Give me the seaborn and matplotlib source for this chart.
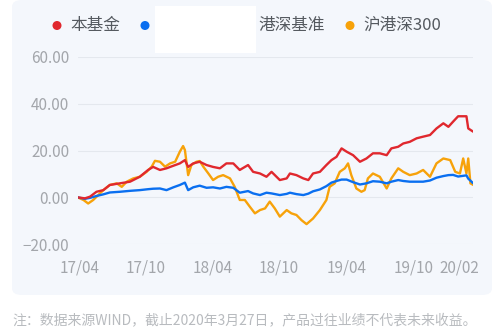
import matplotlib
matplotlib.use("Agg")
import matplotlib.pyplot as plt
from matplotlib.patches import FancyBboxPatch, Rectangle, Ellipse
import seaborn as sns
import pandas as pd

sns.set_theme(style="white")
plt.rcParams['font.family'] = ['Noto Sans CJK SC', 'DejaVu Sans']

# ---------------- data ----------------
grid_dates = ["2017-03-27", "2017-04-16", "2017-04-30", "2017-05-18", "2017-06-06", "2017-06-24",
              "2017-07-22", "2017-08-19", "2017-09-15", "2017-10-08", "2017-10-22", "2017-11-10",
              "2017-11-28", "2017-12-17", "2018-01-04", "2018-01-18", "2018-01-27", "2018-02-10",
              "2018-02-28", "2018-03-19", "2018-04-06", "2018-04-25", "2018-05-13", "2018-06-01",
              "2018-06-19", "2018-07-12", "2018-07-26", "2018-08-14", "2018-09-01", "2018-09-15",
              "2018-10-08", "2018-10-27", "2018-11-05", "2018-11-23", "2018-12-12", "2018-12-26",
              "2019-01-08", "2019-01-27", "2019-02-14", "2019-02-28", "2019-03-14", "2019-03-28",
              "2019-04-11", "2019-04-29", "2019-05-18", "2019-06-05", "2019-06-23", "2019-07-12",
              "2019-07-31", "2019-08-13", "2019-09-01", "2019-09-15", "2019-10-03", "2019-10-22",
              "2019-11-09", "2019-11-28", "2019-12-16", "2020-01-04", "2020-01-18", "2020-01-31",
              "2020-02-14", "2020-03-08", "2020-03-13", "2020-03-27"]
fund = [0.0, -0.4, 0.3, 2.4, 3.1, 5.3, 6.0, 6.7, 8.8, 11.7, 13.0, 11.7,
        12.4, 13.5, 14.5, 15.9, 13.0, 14.5, 15.2, 13.8, 13.0, 12.4, 14.5, 14.5,
        11.7, 13.8, 10.9, 10.2, 8.8, 10.9, 7.4, 8.1, 10.2, 9.5, 8.1, 7.4,
        10.2, 10.9, 13.8, 15.9, 17.3, 20.9, 19.5, 18.0, 15.2, 16.6, 18.8, 18.8,
        18.0, 20.9, 21.6, 23.0, 23.7, 25.2, 25.9, 26.6, 29.4, 31.6, 30.1, 32.3,
        34.6, 34.6, 29.4, 28.0]
bench = [0.0, -0.6, -0.2, 0.6, 1.3, 2.1, 2.4, 2.8, 3.1, 3.5, 3.7, 3.8,
         3.1, 4.3, 5.3, 6.3, 3.1, 4.3, 5.0, 4.1, 4.3, 3.8, 4.5, 4.1,
         2.0, 2.7, 1.7, 1.0, 2.0, 1.7, 1.0, 1.5, 2.0, 1.4, 1.0, 1.6,
         2.6, 3.4, 4.8, 6.3, 7.0, 7.6, 7.6, 6.5, 5.5, 6.0, 6.9, 6.7,
         6.0, 6.7, 7.4, 7.0, 6.7, 6.7, 6.7, 7.2, 8.4, 9.1, 9.5, 9.6,
         8.9, 9.4, 8.0, 6.0]

idx_dates = ["2017-03-27", "2017-04-12", "2017-04-25", "2017-05-09", "2017-05-23", "2017-06-06",
             "2017-06-24", "2017-07-13", "2017-07-27", "2017-08-10", "2017-08-28", "2017-09-15",
             "2017-10-04", "2017-10-18", "2017-10-27", "2017-11-10", "2017-11-24", "2017-12-08",
             "2017-12-22", "2018-01-04", "2018-01-13", "2018-01-18", "2018-01-27", "2018-02-05",
             "2018-02-19", "2018-02-28", "2018-03-10", "2018-03-24", "2018-04-06", "2018-04-20",
             "2018-05-04", "2018-05-23", "2018-06-05", "2018-06-19", "2018-07-03", "2018-07-17",
             "2018-07-31", "2018-08-14", "2018-08-28", "2018-09-10", "2018-09-24", "2018-10-08",
             "2018-10-27", "2018-11-09", "2018-11-23", "2018-12-07", "2018-12-21", "2019-01-08",
             "2019-01-27", "2019-02-14", "2019-02-23", "2019-03-09", "2019-03-23", "2019-04-06",
             "2019-04-15", "2019-04-24", "2019-05-08", "2019-05-22", "2019-05-31", "2019-06-09",
             "2019-06-23", "2019-07-12", "2019-07-31", "2019-08-13", "2019-09-01", "2019-09-15",
             "2019-10-03", "2019-10-22", "2019-11-09", "2019-11-28", "2019-12-16", "2020-01-04",
             "2020-01-23", "2020-02-06", "2020-02-19", "2020-02-28", "2020-03-08", "2020-03-13",
             "2020-03-19", "2020-03-27"]
index300 = [0.0, -1.1, -2.6, -1.1, 1.0, 3.1,
            5.3, 6.0, 4.5, 6.7, 8.1, 8.8,
            10.9, 13.1, 15.6, 15.2, 13.1, 14.5,
            15.2, 19.5, 21.9, 20.2, 9.5, 13.8,
            15.2, 15.5, 13.1, 10.2, 7.4, 8.8,
            9.5, 8.1, 4.5, -1.1, -1.1, -4.0,
            -6.8, -5.4, -4.7, -1.8, -4.7, -8.2,
            -5.4, -6.8, -7.5, -9.7, -11.4, -9.0,
            -5.4, -1.1, 4.5, 6.0, 10.9, 12.4,
            14.5, 9.5, 3.8, 2.4, 3.1, 8.1,
            10.2, 8.8, 3.8, 8.1, 12.4, 10.9,
            9.5, 10.2, 11.7, 8.8, 14.5, 16.6,
            15.9, 10.9, 10.2, 16.6, 10.2, 16.6,
            6.0, 5.3]

series_names = ["本基金", "港深基准", "沪港深300"]
colors = ["#e0282e", "#0a6ff0", "#f7a20a"]
yticks = [-20, 0, 20, 40, 60]
xtick_labels = ["17/04", "17/10", "18/04", "18/10", "19/04", "19/10", "20/02"]
xtick_dates = ["2017-04-02", "2017-10-02", "2018-04-04", "2018-10-06", "2019-04-11", "2019-10-14", "2020-02-16"]
note = "注：数据来源WIND，截止2020年3月27日，产品过往业绩不代表未来收益。"

df_a = pd.DataFrame({"date": pd.to_datetime(grid_dates), series_names[0]: fund, series_names[1]: bench})
df_a = df_a.melt(id_vars="date", var_name="series", value_name="value")
df_b = pd.DataFrame({"date": pd.to_datetime(idx_dates), "series": series_names[2], "value": index300})
df = pd.concat([df_a, df_b], ignore_index=True)

# ---------------- figure ----------------
W, H = 500, 335
fig = plt.figure(figsize=(W / 100, H / 100), dpi=100)
fig.patch.set_facecolor("white")

panel = FancyBboxPatch((12 / W, 40 / H), 480 / W, (H - 40) / H,
                       boxstyle="round,pad=0,rounding_size=0.02",
                       transform=fig.transFigure, facecolor="#f4f7fc", edgecolor="none", zorder=-10)
fig.add_artist(panel)

ax = fig.add_axes([77.7 / W, 1 - 244.3 / H, (473.3 - 77.7) / W, (244.3 - 56.7) / H])
ax.set_facecolor("none")
ax.set_zorder(1)

palette = dict(zip(series_names, colors))
sns.lineplot(data=df, x="date", y="value", hue="series",
             hue_order=[series_names[2], series_names[1], series_names[0]],
             palette=palette, linewidth=1.7, ax=ax, legend=False, zorder=3)
for line in ax.get_lines():
    line.set_solid_joinstyle("round")

ax.set_ylim(-20, 60)
ax.set_xlim(pd.Timestamp(grid_dates[0]), pd.Timestamp(grid_dates[-1]))
ax.set_yticks(yticks)
ax.set_yticklabels([f"{v:.2f}".replace("-", "\u2212") for v in yticks])
ax.set_xticks(pd.to_datetime(xtick_dates))
ax.set_xticklabels(xtick_labels)
ax.grid(axis="y", color="#e4e8ee", linewidth=0.8)
ax.grid(axis="x", visible=False)
ax.set_axisbelow(True)
for s in ax.spines.values():
    s.set_visible(False)
ax.tick_params(axis="both", length=0, labelsize=11, colors="#a3a6ab")
ax.tick_params(axis="x", pad=11)
ax.tick_params(axis="y", pad=6)
ax.set_xlabel("")
ax.set_ylabel("")

# ---------------- legend ----------------
ly = 1 - 25.5 / H
legend_items = [(57, 70, series_names[0], colors[0]),
                (145, 258, series_names[1], colors[1]),
                (350, 363, series_names[2], colors[2])]
for dx, tx, label, c in legend_items:
    fig.add_artist(Ellipse((dx / W, ly), 9 / W, 9 / H, transform=fig.transFigure,
                           facecolor=c, edgecolor="none", zorder=6))
    fig.text(tx / W, ly, label, color="#555a60", fontsize=12, ha="left", va="center", zorder=6)

# white redaction box in the legend
fig.add_artist(Rectangle((155 / W, 1 - 53 / H), 101 / W, 47 / H, transform=fig.transFigure,
                         facecolor="white", edgecolor="none", zorder=5))

# ---------------- note ----------------
fig.text(12 / W, 1 - 320 / H, note, color="#b8bbbf", fontsize=10, ha="left", va="center")

fig.savefig("out.png", dpi=100, facecolor="white")
